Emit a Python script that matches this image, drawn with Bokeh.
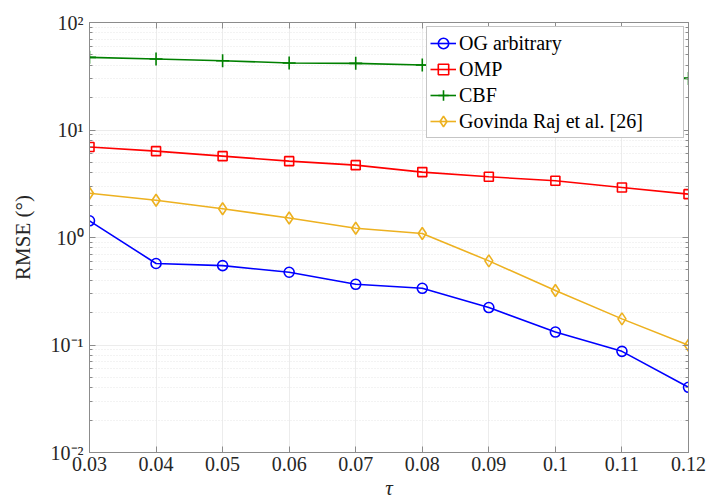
from bokeh.plotting import figure
from bokeh.models import FixedTicker, LinearAxis, LogAxis, Legend, LegendItem, Range1d
from bokeh.embed import file_html
from bokeh.resources import INLINE

# ---- data ----
tau = [0.03, 0.04, 0.05, 0.06, 0.07, 0.08, 0.09, 0.10, 0.11, 0.12]
og_arbitrary = [1.43, 0.573, 0.548, 0.475, 0.367, 0.337, 0.223, 0.132, 0.0873, 0.0404]
omp = [6.95, 6.36, 5.71, 5.13, 4.71, 4.06, 3.67, 3.37, 2.92, 2.53]
cbf = [47.4, 45.7, 44.1, 42.0, 41.7, 40.2, 37.5, 35.0, 32.5, 30.2]
govinda = [2.58, 2.22, 1.85, 1.52, 1.22, 1.09, 0.606, 0.321, 0.175, 0.0994]

x_tick_labels = ["0.03", "0.04", "0.05", "0.06", "0.07", "0.08", "0.09", "0.1", "0.11", "0.12"]
y_ticks = [0.01, 0.1, 1.0, 10.0, 100.0]
y_tick_labels = ["10\u207b\u00b2", "10\u207b\u00b9", "10\u2070", "10\u00b9", "10\u00b2"]

FONT = "Liberation Serif"
TEXT_COLOR = "#262626"
AXIS_COLOR = "#8c8c8c"

p = figure(width=708, height=504, y_axis_type="log", output_backend="svg",
           toolbar_location=None, x_range=Range1d(0.03, 0.12), y_range=Range1d(0.01, 100),
           min_border_left=89, min_border_right=20, min_border_top=22, min_border_bottom=52)
p.outline_line_color = AXIS_COLOR
p.background_fill_color = "white"
p.border_fill_color = "white"

minor = [m * 10.0 ** e for e in range(-2, 2) for m in range(2, 10)]

def style_axis(ax):
    ax.axis_line_color = AXIS_COLOR
    ax.major_tick_line_color = AXIS_COLOR
    ax.minor_tick_line_color = AXIS_COLOR
    ax.major_tick_in = 6
    ax.major_tick_out = 0
    ax.minor_tick_in = 3
    ax.minor_tick_out = 0
    ax.major_label_text_font = FONT
    ax.major_label_text_font_size = "20px"
    ax.major_label_text_color = TEXT_COLOR
    ax.axis_label_text_font = FONT
    ax.axis_label_text_font_size = "21px"
    ax.axis_label_text_color = TEXT_COLOR
    ax.axis_label_text_font_style = "normal"

xticker = FixedTicker(ticks=tau)
yticker = FixedTicker(ticks=y_ticks, minor_ticks=minor)

xa = p.xaxis[0]
xa.ticker = xticker
xa.major_label_overrides = {t: l for t, l in zip(tau, x_tick_labels)}
style_axis(xa)
xa.axis_label = "\u03c4"
xa.axis_label_text_font_style = "italic"
xa.major_label_standoff = 4
xa.axis_label_standoff = 2

ya = p.yaxis[0]
ya.ticker = yticker
ya.major_label_overrides = {t: l for t, l in zip(y_ticks, y_tick_labels)}
style_axis(ya)
ya.axis_label = "RMSE (\u00b0)"
ya.major_label_standoff = 6
ya.axis_label_standoff = 13

top = LinearAxis(ticker=FixedTicker(ticks=tau))
style_axis(top)
top.major_label_overrides = {t: "" for t in tau}
top.major_label_standoff = 0
p.add_layout(top, "above")
right = LogAxis(ticker=FixedTicker(ticks=y_ticks, minor_ticks=minor))
style_axis(right)
right.major_label_overrides = {t: "" for t in y_ticks}
right.major_label_standoff = 0
p.add_layout(right, "right")

p.xgrid.ticker = xticker
p.ygrid.ticker = yticker
p.xgrid.grid_line_color = "#ececec"
p.ygrid.grid_line_color = "#ececec"
p.ygrid.minor_grid_line_color = "#e6e6e6"
p.ygrid.minor_grid_line_dash = "1 2"

series = [
    ("OG arbitrary", og_arbitrary, "#0000ff", "circle", 10),
    ("OMP", omp, "#ff0000", "square", 9),
    ("CBF", cbf, "#008000", "cross", 13),
    ("Govinda Raj et al. [26]", govinda, "#edb120", "diamond", 12),
]

items = []
for name, vals, col, marker, size in series:
    l = p.line(tau, vals, line_color=col, line_width=1.6)
    s = p.scatter(tau, vals, marker=marker, size=size, line_color=col, fill_color=None,
                  line_width=1.6)
    items.append(LegendItem(label=name, renderers=[l, s]))

leg = Legend(items=items, location=(337, 314))
leg.label_text_font = FONT
leg.label_text_font_size = "20px"
leg.label_text_color = "#000000"
leg.border_line_color = AXIS_COLOR
leg.background_fill_color = "white"
leg.background_fill_alpha = 1.0
leg.glyph_width = 26
leg.glyph_height = 26
leg.label_height = 26
leg.label_width = 221
leg.label_standoff = 3
leg.spacing = 0
leg.padding = 3
leg.margin = 0
p.add_layout(leg, "center")

open("out.html", "w").write(file_html(p, INLINE))
